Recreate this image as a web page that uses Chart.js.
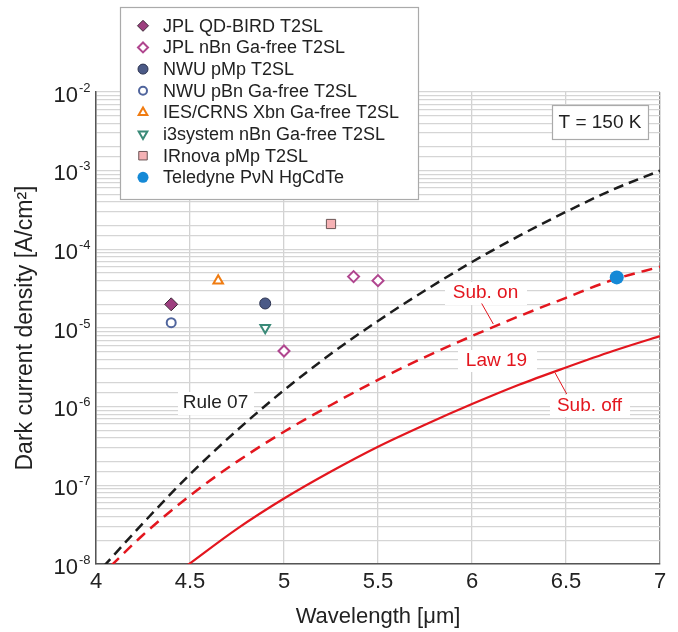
<!DOCTYPE html>
<html>
<head>
<meta charset="utf-8">
<script src="https://cdn.jsdelivr.net/npm/chart.js@4.4.0/dist/chart.umd.min.js"></script>
<style>
    html, body { margin: 0; padding: 0; background: #fff; }
    #wrap { width: 678px; height: 632px; }
</style>
</head>
<body>
<div id="wrap"><canvas id="dark-current" width="678" height="632"></canvas></div>
<script>
// axis ticks
var wavelengthTicks = [4, 4.5, 5, 5.5, 6, 6.5, 7];
var decadeExponents = [-8, -7, -6, -5, -4, -3, -2];

// measured detectors, T = 150 K
var qdBirdWl = [4.4];
var qdBirdJ = [2.0e-5];
var jplNbnWl = [5.0, 5.37, 5.5];
var jplNbnJ = [5.1e-6, 4.5e-5, 4.0e-5];
var nwuPmpWl = [4.9];
var nwuPmpJ = [2.05e-5];
var nwuPbnWl = [4.4];
var nwuPbnJ = [1.17e-5];
var iesWl = [4.65];
var iesJ = [4.0e-5];
var i3Wl = [4.9];
var i3J = [1.01e-5];
var irnovaWl = [5.25];
var irnovaJ = [2.1e-4];
var teledyneWl = [6.77];
var teledyneJ = [4.4e-5];

// reference curves
var rule07Wl = [4.04, 4.25, 4.5, 4.75, 5, 5.25, 5.5, 5.75, 6, 6.25, 6.5, 6.75, 7];
var rule07J = [9.3e-9, 3.3e-8, 1.38e-7, 5.0e-7, 1.62e-6, 4.7e-6, 1.23e-5, 3.0e-5, 6.9e-5, 1.48e-4, 3.0e-4, 5.75e-4, 1.0e-3];
var subOnWl = [4.08, 4.25, 4.5, 4.75, 5, 5.25, 5.5, 5.75, 6, 6.25, 6.5, 6.75, 7];
var subOnJ = [9.5e-9, 2.34e-8, 7.4e-8, 2.0e-7, 4.8e-7, 1.05e-6, 2.19e-6, 4.27e-6, 7.9e-6, 1.41e-5, 2.42e-5, 4.1e-5, 6.0e-5];
var subOffWl = [4.49, 4.75, 5, 5.25, 5.5, 5.75, 6, 6.25, 6.5, 6.75, 7];
var subOffJ = [9.8e-9, 2.8e-8, 6.8e-8, 1.5e-7, 3.1e-7, 5.9e-7, 1.08e-6, 1.9e-6, 3.15e-6, 5.1e-6, 7.9e-6];

var FONT = '"Liberation Sans", Arial, Helvetica, sans-serif';
var RED = "#e3161e";

function pts(xs, ys) {
    return xs.map(function (x, i) { return { x: x, y: ys[i] }; });
}

function marker(label, xs, ys, style, fill, line, lw, r, rot, legendR) {
    return {
        type: "scatter",
        label: label,
        data: pts(xs, ys),
        pointStyle: style,
        pointRotation: rot || 0,
        backgroundColor: fill,
        borderColor: line,
        borderWidth: lw,
        pointRadius: r,
        pointHoverRadius: r,
        legendRadius: legendR,
    };
}

function curve(label, xs, ys, color, dash, width) {
    return {
        type: "line",
        label: label,
        data: pts(xs, ys),
        borderColor: color,
        borderWidth: width,
        borderDash: dash,
        pointRadius: 0,
        cubicInterpolationMode: "monotone",
        fill: false,
        inLegend: false,
    };
}

var datasets = [
    marker("JPL QD-BIRD T2SL", qdBirdWl, qdBirdJ, "rectRot", "#9d3f7f", "#3e2a38", 1, 6.5, 0, 5.5),
    marker("JPL nBn Ga-free T2SL", jplNbnWl, jplNbnJ, "rectRot", "#ffffff", "#b0468f", 2, 5.5, 0, 5),
    marker("NWU pMp T2SL", nwuPmpWl, nwuPmpJ, "circle", "#4b5a87", "#2c3350", 1, 5.5, 0, 5),
    marker("NWU pBn Ga-free T2SL", nwuPbnWl, nwuPbnJ, "circle", "#ffffff", "#50659d", 2, 4.5, 0, 4),
    marker("IES/CRNS Xbn Ga-free T2SL", iesWl, iesJ, "triangle", "#ffffff", "#f07c12", 2, 5.5, 0, 5),
    marker("i3system nBn Ga-free T2SL", i3Wl, i3J, "triangle", "#ffffff", "#3a8a78", 2, 5.5, 180, 5),
    marker("IRnova pMp T2SL", irnovaWl, irnovaJ, "rect", "#f5b1b4", "#6b5555", 1, 6.5, 0, 6),
    marker("Teledyne P\u03bdN HgCdTe", teledyneWl, teledyneJ, "circle", "#1589d6", "#1589d6", 0, 7, 0, 5.5),
    curve("Rule 07", rule07Wl, rule07J, "#1c1c1c", [10, 6], 2.5),
    curve("Law 19, Sub. on", subOnWl, subOnJ, RED, [11, 7], 2.5),
    curve("Law 19, Sub. off", subOffWl, subOffJ, RED, [], 2.2),
];

function drawMarker(ctx, ds, x, y) {
    var r = ds.legendRadius;
    ctx.save();
    ctx.beginPath();
    if (ds.pointStyle === "rectRot") {
        ctx.moveTo(x - r, y); ctx.lineTo(x, y - r); ctx.lineTo(x + r, y); ctx.lineTo(x, y + r);
        ctx.closePath();
    } else if (ds.pointStyle === "rect") {
        var h = r * Math.SQRT1_2;
        ctx.rect(x - h, y - h, 2 * h, 2 * h);
    } else if (ds.pointStyle === "triangle") {
        var s = ds.pointRotation === 180 ? -1 : 1;
        ctx.moveTo(x, y - s * r);
        ctx.lineTo(x + r * 0.866, y + s * r * 0.5);
        ctx.lineTo(x - r * 0.866, y + s * r * 0.5);
        ctx.closePath();
    } else {
        ctx.arc(x, y, r, 0, Math.PI * 2);
    }
    ctx.fillStyle = ds.backgroundColor;
    ctx.fill();
    if (ds.borderWidth) {
        ctx.lineWidth = ds.borderWidth;
        ctx.strokeStyle = ds.borderColor;
        ctx.stroke();
    }
    ctx.restore();
}

function textBox(ctx, text, cx, cy, bx, by, bw, bh, color, border) {
    ctx.fillStyle = "#fff";
    ctx.fillRect(bx, by, bw, bh);
    if (border) {
        ctx.strokeStyle = border;
        ctx.lineWidth = 1.2;
        ctx.strokeRect(bx + 0.5, by + 0.5, bw, bh);
    }
    ctx.fillStyle = color;
    ctx.font = "19px " + FONT;
    ctx.textAlign = "center";
    ctx.textBaseline = "middle";
    ctx.fillText(text, cx, cy);
}

var decorations = {
    id: "decorations",
    beforeDatasetsDraw: function (chart) {
        var ctx = chart.ctx;
        ctx.save();
        textBox(ctx, "Rule 07", 215.5, 403, 178, 392, 76, 23, "#222");
        textBox(ctx, "Sub. on", 485.5, 292.5, 445, 282, 82, 23, RED);
        textBox(ctx, "Law 19", 496.5, 361, 458, 350, 79, 22, RED);
        textBox(ctx, "Sub. off", 589.5, 405.5, 550, 395, 80, 22, RED);
        ctx.strokeStyle = RED;
        ctx.lineWidth = 1;
        ctx.beginPath();
        ctx.moveTo(481.7, 303.5); ctx.lineTo(493.3, 324);
        ctx.moveTo(555, 372.7); ctx.lineTo(566.7, 394);
        ctx.stroke();
        ctx.restore();
    },
    afterDraw: function (chart) {
        var ctx = chart.ctx;
        var y = chart.scales.y;
        ctx.save();
        // decade labels with superscript exponent
        decadeExponents.forEach(function (e) {
            var py = y.getPixelForValue(Math.pow(10, e));
            ctx.fillStyle = "#222";
            ctx.textBaseline = "alphabetic";
            ctx.textAlign = "right";
            ctx.font = "22px " + FONT;
            ctx.fillText("10", 78, py + 9.5);
            ctx.textAlign = "left";
            ctx.font = "13px " + FONT;
            ctx.fillText(String(e), 79, py - 0.5);
        });

        // temperature box
        textBox(ctx, "T = 150 K", 600, 122.5, 552, 105, 96, 34, "#222", "#aaaaaa");

        // legend
        ctx.fillStyle = "#fff";
        ctx.fillRect(120, 7, 298, 192);
        ctx.strokeStyle = "#aaaaaa";
        ctx.lineWidth = 1.2;
        ctx.strokeRect(120.5, 7.5, 298, 192);
        var row = 0;
        chart.data.datasets.forEach(function (ds) {
            if (ds.inLegend === false) return;
            var ly = 25.8 + row * 21.65;
            drawMarker(ctx, ds, 143, ly);
            ctx.fillStyle = "#222";
            ctx.font = "18px " + FONT;
            ctx.textAlign = "left";
            ctx.textBaseline = "middle";
            ctx.fillText(ds.label, 163, ly + 1);
            row++;
        });
        ctx.restore();
    },
};

var ctx = document.getElementById("dark-current").getContext("2d");

var darkCurrentChart = new Chart(ctx, {
    data: { datasets: datasets },
    options: {
        responsive: false,
        animation: false,
        devicePixelRatio: 1,
        layout: { padding: { top: 92, right: 18, left: 0, bottom: 0 } },
        plugins: {
            legend: { display: false },
            tooltip: { enabled: false },
        },
        scales: {
            x: {
                type: "linear",
                min: 4,
                max: 7,
                afterBuildTicks: function (scale) {
                    scale.ticks = wavelengthTicks.map(function (v) { return { value: v }; });
                },
                afterFit: function (scale) { scale.height = 68; },
                ticks: {
                    color: "#222",
                    padding: 5,
                    font: { family: FONT, size: 22 },
                    callback: function (v) { return String(v); },
                },
                grid: {
                    drawTicks: false,
                    lineWidth: 1.3,
                    color: function (c) {
                        return c.tick && c.tick.value === 7 ? "#8c8c8c" : "#d2d2d2";
                    },
                },
                border: { display: true, color: "#555", width: 1.5 },
                title: {
                    display: true,
                    text: "Wavelength [\u03bcm]",
                    color: "#222",
                    font: { family: FONT, size: 22 },
                    padding: { top: 0, bottom: 2 },
                },
            },
            y: {
                type: "logarithmic",
                min: 1e-8,
                max: 1e-2,
                afterFit: function (scale) { scale.width = 96; },
                ticks: { display: false },
                grid: {
                    drawTicks: false,
                    lineWidth: 1.3,
                    color: "#d5d5d5",
                },
                border: { display: true, color: "#555", width: 1.5 },
                title: {
                    display: true,
                    text: "Dark current density [A/cm\u00b2]",
                    color: "#222",
                    font: { family: FONT, size: 23 },
                    padding: { top: 12, bottom: 0 },
                },
            },
        },
    },
    plugins: [decorations],
});
</script>
</body>
</html>
